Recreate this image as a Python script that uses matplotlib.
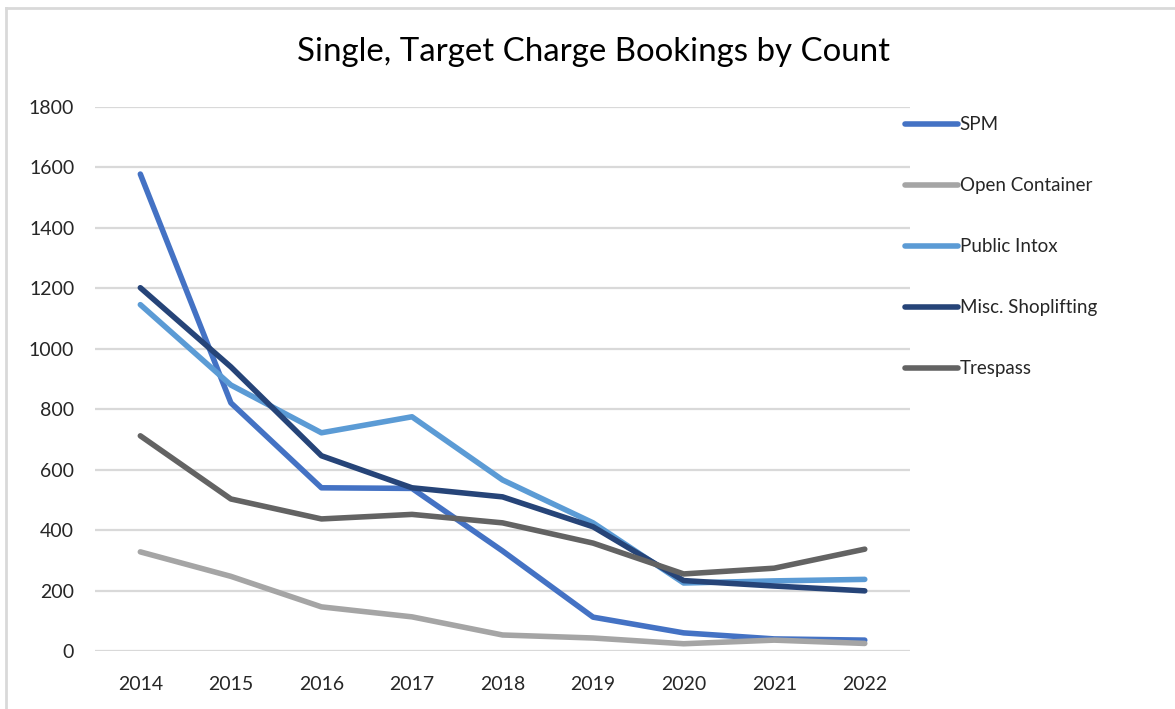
import matplotlib.pyplot as plt
from matplotlib.lines import Line2D

plt.rcParams['font.family'] = ['Lato', 'DejaVu Sans']

# Data
years = [2014, 2015, 2016, 2017, 2018, 2019, 2020, 2021, 2022]
spm = [1578, 821, 540, 538, 331, 112, 60, 40, 36]
open_container = [328, 247, 146, 113, 53, 43, 24, 36, 25]
public_intox = [1146, 880, 722, 775, 566, 424, 225, 232, 237]
misc_shoplifting = [1202, 940, 646, 540, 510, 411, 233, 215, 199]
trespass = [712, 503, 437, 452, 424, 357, 255, 274, 337]

series_names = ["SPM", "Open Container", "Public Intox", "Misc. Shoplifting", "Trespass"]
series_values = [spm, open_container, public_intox, misc_shoplifting, trespass]
series_colors = ['#4472C4', '#A5A5A5', '#5B9BD5', '#264478', '#636363']

yticks = [0, 200, 400, 600, 800, 1000, 1200, 1400, 1600, 1800]

GRID = '#D9D9D9'

fig = plt.figure(figsize=(11.75, 7.09), dpi=100)
fig.patch.set_facecolor('white')
ax = fig.add_axes([0.0809, 0.0818, 0.6936, 0.7673])

for name, vals, col in zip(series_names, series_values, series_colors):
    ax.plot(years, vals, color=col, linewidth=4, solid_capstyle='round',
            solid_joinstyle='round', label=name)

ax.set_xlim(2013.5, 2022.5)
ax.set_ylim(0, 1800)
ax.set_xticks(years)
ax.set_xticklabels([str(y) for y in years])
ax.set_yticks(yticks)
ax.set_yticklabels([str(v) for v in yticks])
ax.yaxis.grid(True, color=GRID, linewidth=1.6)
ax.set_axisbelow(True)
for s in ax.spines.values():
    s.set_visible(False)
ax.tick_params(length=0, labelsize=14, colors='#262626')
ax.tick_params(axis='y', pad=15)
ax.tick_params(axis='x', pad=18)

fig.suptitle("Single, Target Charge Bookings by Count", fontsize=23.8,
             x=0.505, y=0.927, va='center', color='black')

handles = [Line2D([0], [0], color=c, linewidth=4, solid_capstyle='round') for c in series_colors]
leg = fig.legend(handles, series_names, loc='upper left',
                 bbox_to_anchor=(0.756, 0.860), frameon=False,
                 fontsize=13.5, handlelength=2.8, handletextpad=0.1,
                 labelspacing=2.35, labelcolor='#262626')

# chart frame (top and left edges visible in the reference)
fig.add_artist(Line2D([0.005, 1.0], [0.989, 0.989], color=GRID, linewidth=2,
                      transform=fig.transFigure))
fig.add_artist(Line2D([0.005, 0.005], [0.0, 0.989], color=GRID, linewidth=2,
                      transform=fig.transFigure))

fig.savefig('out.png', dpi=100, facecolor='white')
